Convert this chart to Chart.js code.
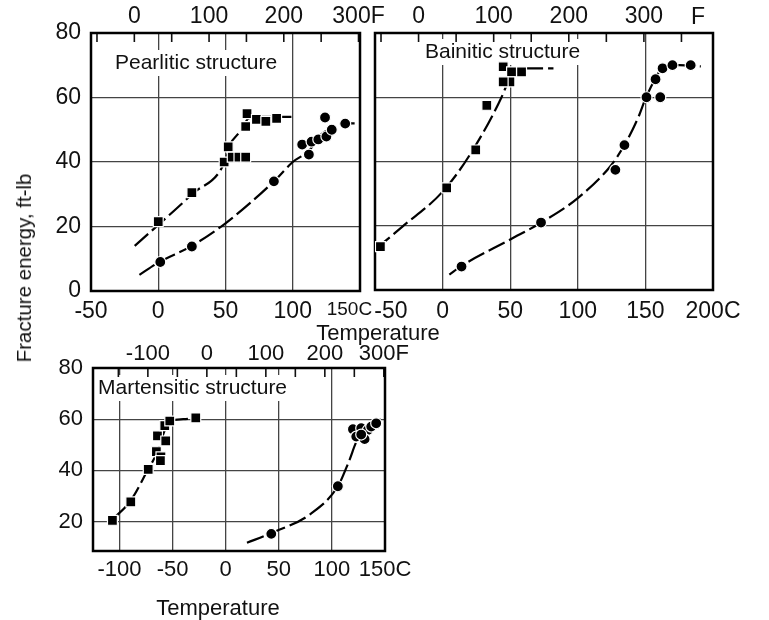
<!DOCTYPE html>
<html>
<head>
<meta charset="utf-8">
<script src="https://cdn.jsdelivr.net/npm/chart.js@4.4.0/dist/chart.umd.min.js"></script>
<style>
  body { margin: 0; background: #fff; }
  #page { position: relative; width: 769px; height: 620px; overflow: hidden; font-family: 'Liberation Sans', Arial, sans-serif; color: #111; }
  canvas { position: absolute; }
  .lbl { position: absolute; font-size: 22px; white-space: nowrap; transform: translate(-50%, -50%); }
</style>
</head>
<body>
<div id="page">
  <canvas id="pearlitic" width="400" height="330" style="left:0;top:0"></canvas>
  <canvas id="bainitic" width="407" height="330" style="left:362px;top:0"></canvas>
  <canvas id="martensitic" width="420" height="280" style="left:0;top:340px"></canvas>
  <div class="lbl" style="left:24px;top:268px;font-size:20.5px;transform:translate(-50%,-50%) rotate(-90deg)">Fracture energy, ft-lb</div>
  <div class="lbl" style="left:378px;top:333px">Temperature</div>
  <div class="lbl" style="left:218px;top:608px">Temperature</div>
</div>
<script>
// Charpy fracture energy vs temperature for three microstructures
// temperatures in C, energies in ft-lb

// Pearlitic
const pearSqT = [0, 25, 49, 52, 55, 60, 65, 65, 66, 73, 80, 88];
const pearSqE = [21.5, 30.5, 40, 44.7, 41.5, 41.5, 41.5, 51, 55, 53.2, 52.6, 53.5];
const pearCirT = [1.5, 25, 86, 107, 112, 114, 119, 125, 124, 129, 139];
const pearCirE = [9, 13.8, 34, 45.4, 42.3, 46.3, 47, 47.9, 53.8, 50, 51.9];
const pearSqCurveT = [-17.5, 0, 25, 50, 53, 62, 67, 75, 99];
const pearSqCurveE = [14, 20.5, 30, 40.5, 45, 50, 53.5, 54, 54];
const pearCirCurveT = [-14, 0, 25, 50, 86, 100, 112, 121, 128, 139, 146];
const pearCirCurveE = [5, 8.8, 14, 21, 34, 40, 43.5, 48.5, 50.3, 52, 52];

// Bainitic
const bainSqT = [-46, 3, 24.5, 32.7, 44.8, 51, 58.4, 49.8, 44.8];
const bainSqE = [13.5, 31.8, 43.6, 57.5, 69.5, 67.9, 67.9, 64.8, 64.8];
const bainCirT = [14, 72.8, 127.8, 134.5, 150.8, 161, 157.5, 162.7, 170, 183.5];
const bainCirE = [7.3, 21, 37.4, 45.1, 60, 60, 65.6, 69, 70, 70];
const bainSqCurveT = [-49.3, -29.5, 0, 20, 43.6, 48];
const bainSqCurveE = [12.8, 19.8, 30.6, 42, 60, 64.5];
const bainSqTopT = [61, 82];
const bainSqTopE = [69, 69];
const bainCirCurveT = [5, 14, 50, 73, 100, 125, 135, 145, 150, 157, 163, 175, 191];
const bainCirCurveE = [4.8, 7.5, 15.7, 21, 28.6, 39, 45.5, 54, 59.5, 65.5, 69.3, 70, 69.6];

// Martensitic
const martSqT = [-106.7, -89.4, -73, -65.3, -61, -61.5, -64.3, -56.5, -57.4, -52.7, -28.2];
const martSqE = [20.5, 27.7, 40.4, 47.3, 45.3, 43.8, 53.5, 51.5, 57.5, 59.3, 60.5];
const martCirT = [42.9, 105.6, 119.8, 127.6, 133.9, 122.9, 130.8, 137, 141.7, 127.6];
const martCirE = [15.2, 33.8, 56.1, 56.5, 55.8, 53.2, 52.2, 57.1, 58.4, 54];
const martSqCurveT = [-106, -89, -73, -64, -59, -55, -52, -40, -28];
const martSqCurveE = [21, 28.5, 40.5, 47.5, 54, 58, 59.5, 60, 60.5];
const martCirCurveT = [20, 43, 80, 105.6, 116, 124, 135, 146];
const martCirCurveE = [11.7, 15.5, 23, 33.8, 43.5, 52, 56.5, 60];

// axis ticks
const pearCTicks = [-50, 0, 50, 100, 150];
const bainCTicks = [-50, 0, 50, 100, 150, 200];
const martCTicks = [-100, -50, 0, 50, 100, 150];
const pearFTicks = [0, 100, 200, 300];
const bainFTicks = [0, 100, 200, 300];
const martFTicks = [-100, 0, 100, 200, 300];
const energyTicks = [0, 20, 40, 60, 80];
const martEnergyTicks = [20, 40, 60, 80];

const FONT = '"Liberation Sans", Arial, sans-serif';
const cToF = c => c * 9 / 5 + 32;
const pts = (T, E) => T.map((t, i) => ({ x: t, y: E[i] }));

function marks(T, E, style, r) {
  return {
    data: pts(T, E), pointStyle: style, pointRadius: r,
    backgroundColor: '#000', borderColor: '#fff', borderWidth: 1.2, order: 0
  };
}

function curve(T, E) {
  return {
    data: pts(T, E), showLine: true, pointRadius: 0,
    borderColor: '#000', borderWidth: 2.2, borderDash: [18, 5],
    cubicInterpolationMode: 'monotone', order: 1
  };
}

function panelDecor(p) {
  return {
    id: 'decor',
    beforeDatasetsDraw(chart) {
      const { ctx, chartArea: a, scales } = chart;
      ctx.save();
      ctx.font = '21px ' + FONT;
      const w = ctx.measureText(p.label).width;
      const lx = a.left + p.dx, ly = a.top + p.dy;
      ctx.fillStyle = '#fff';
      ctx.fillRect(lx - 4, ly - 13, w + 8, 26);
      // short inward ticks every 50 F
      const f = scales.xF;
      ctx.strokeStyle = '#111';
      ctx.lineWidth = 1.6;
      for (let v = Math.ceil(f.min / 50) * 50; v <= f.max; v += 50) {
        const px = f.getPixelForValue(v);
        ctx.beginPath(); ctx.moveTo(px, a.top); ctx.lineTo(px, a.top + 9); ctx.stroke();
      }
      ctx.fillStyle = '#111';
      ctx.textBaseline = 'middle';
      ctx.fillText(p.label, lx, ly);
      ctx.strokeStyle = '#000';
      ctx.lineWidth = 2.5;
      ctx.strokeRect(a.left, a.top, a.right - a.left, a.bottom - a.top);
      if (p.fMark) {
        ctx.font = '23px ' + FONT;
        ctx.textAlign = 'center';
        ctx.fillText('F', a.right - 15, a.top - 15);
      }
      ctx.restore();
    }
  };
}

function drawPanel(id, p) {
  const datasets = [
    marks(p.sqT, p.sqE, 'rect', 7),
    marks(p.cirT, p.cirE, 'circle', 5.5),
    ...p.curves.map(c => curve(c[0], c[1]))
  ];
  const tickFont = { family: FONT, size: p.fontSize };
  const grid = { color: '#444', lineWidth: 1.3, drawTicks: false };
  const lastC = p.cTicks[p.cTicks.length - 1];
  new Chart(document.getElementById(id), {
    type: 'scatter',
    data: { datasets },
    options: {
      responsive: false, animation: false, devicePixelRatio: 1,
      layout: { autoPadding: false, padding: { left: 0, top: 0, right: p.padRight, bottom: 0 } },
      plugins: { legend: { display: false }, tooltip: { enabled: false } },
      scales: {
        x: {
          type: 'linear', position: 'bottom', min: p.cMin, max: p.cMax,
          afterBuildTicks: s => { s.ticks = p.cTicks.map(v => ({ value: v })); },
          afterFit: s => { s.height = p.bottomH; s.paddingLeft = 0; s.paddingRight = 0; },
          grid, border: { display: false },
          ticks: {
            color: '#111', padding: p.bottomPad, maxRotation: 0, autoSkip: false,
            font: c => (c.tick && c.tick.value === lastC && p.smallLast) ? { family: FONT, size: 19 } : tickFont,
            // labels nudged sideways where the two upper panels meet
            callback: v => {
              if (v === lastC) return p.smallLast ? v + 'C    ' : v + 'C';
              if (v === p.cMin && p.nudgeFirst) return '     ' + v;
              return v;
            }
          }
        },
        xF: {
          type: 'linear', position: 'top', min: cToF(p.cMin), max: cToF(p.cMax),
          afterBuildTicks: s => { s.ticks = p.fTicks.map(v => ({ value: v })); },
          afterFit: s => { s.height = p.topH; s.paddingLeft = 0; s.paddingRight = 0; },
          grid: { drawOnChartArea: false, drawTicks: false }, border: { display: false },
          ticks: {
            color: '#111', padding: p.topPad, maxRotation: 0, autoSkip: false, font: tickFont,
            callback: v => (v === 300 && !p.fMark) ? '300F' : v
          }
        },
        y: {
          min: p.eMin, max: 80,
          afterBuildTicks: s => { s.ticks = p.eTicks.map(v => ({ value: v })); },
          afterFit: s => { s.width = p.leftW; s.paddingTop = 0; s.paddingBottom = 0; },
          grid, border: { display: false },
          ticks: { display: p.yLabels, color: '#111', padding: 10, font: tickFont }
        }
      }
    },
    plugins: [panelDecor(p)]
  });
}

drawPanel('pearlitic', {
  label: 'Pearlitic structure', dx: 24, dy: 30,
  sqT: pearSqT, sqE: pearSqE, cirT: pearCirT, cirE: pearCirE,
  curves: [[pearSqCurveT, pearSqCurveE], [pearCirCurveT, pearCirCurveE]],
  cMin: -50, cMax: 150, cTicks: pearCTicks, fTicks: pearFTicks, smallLast: true,
  eMin: 0, eTicks: energyTicks, yLabels: true, fontSize: 23,
  leftW: 91, topH: 33, bottomH: 39, padRight: 40, bottomPad: 7, topPad: 3
});

drawPanel('bainitic', {
  label: 'Bainitic structure', dx: 50, dy: 19, fMark: true, nudgeFirst: true,
  sqT: bainSqT, sqE: bainSqE, cirT: bainCirT, cirE: bainCirE,
  curves: [[bainSqCurveT, bainSqCurveE], [bainSqTopT, bainSqTopE], [bainCirCurveT, bainCirCurveE]],
  cMin: -50, cMax: 200, cTicks: bainCTicks, fTicks: bainFTicks,
  eMin: 0, eTicks: energyTicks, yLabels: false, fontSize: 23,
  leftW: 13, topH: 33, bottomH: 40, padRight: 56, bottomPad: 8, topPad: 3
});

drawPanel('martensitic', {
  label: 'Martensitic structure', dx: 5, dy: 20,
  sqT: martSqT, sqE: martSqE, cirT: martCirT, cirE: martCirE,
  curves: [[martSqCurveT, martSqCurveE], [martCirCurveT, martCirCurveE]],
  cMin: -125, cMax: 150, cTicks: martCTicks, fTicks: martFTicks,
  eMin: 8.5, eTicks: martEnergyTicks, yLabels: true, fontSize: 22,
  leftW: 93, topH: 28, bottomH: 69, padRight: 35, bottomPad: 6, topPad: 1
});
</script>
</body>
</html>
